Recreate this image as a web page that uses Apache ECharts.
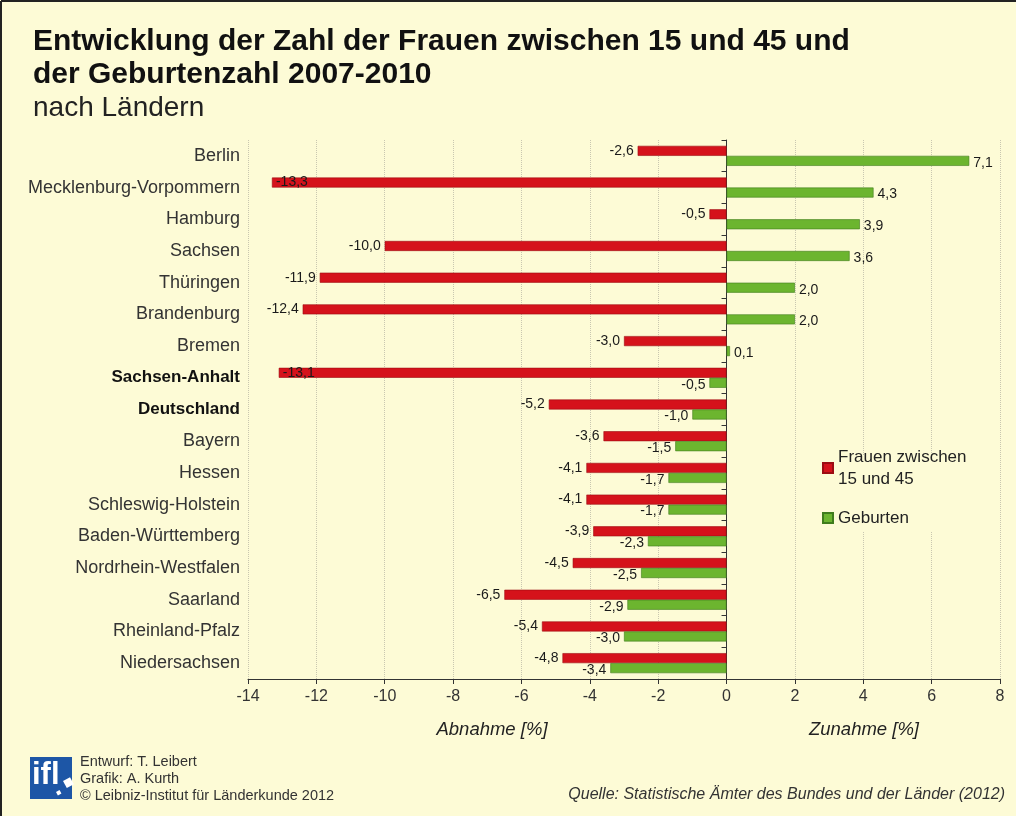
<!DOCTYPE html>
<html>
<head>
<meta charset="utf-8">
<script src="https://cdn.jsdelivr.net/npm/echarts@6/dist/echarts.min.js"></script>
<style>
  html, body { margin: 0; padding: 0; background: #fdfbd6; }
  #chart { width: 1016px; height: 816px; }
</style>
</head>
<body>
<div id="chart"></div>
<script>
// Länder, von oben nach unten
const laender = [
  'Berlin', 'Mecklenburg-Vorpommern', 'Hamburg', 'Sachsen', 'Thüringen',
  'Brandenburg', 'Bremen', 'Sachsen-Anhalt', 'Deutschland', 'Bayern',
  'Hessen', 'Schleswig-Holstein', 'Baden-Württemberg', 'Nordrhein-Westfalen',
  'Saarland', 'Rheinland-Pfalz', 'Niedersachsen'
];
// Veränderung 2007-2010 in %
const frauen = [-2.6, -13.3, -0.5, -10.0, -11.9, -12.4, -3.0, -13.1, -5.2, -3.6, -4.1, -4.1, -3.9, -4.5, -6.5, -5.4, -4.8];
const geburten = [7.1, 4.3, 3.9, 3.6, 2.0, 2.0, 0.1, -0.5, -1.0, -1.5, -1.7, -1.7, -2.3, -2.5, -2.9, -3.0, -3.4];
const xTicks = [-14, -12, -10, -8, -6, -4, -2, 0, 2, 4, 6, 8];
const fettLaender = ['Sachsen-Anhalt', 'Deutschland'];

const bg = '#fdfbd6';
const font = "'Liberation Sans', Arial, sans-serif";

function fmt(v) {
  return v.toFixed(1).replace('.', ',');
}

// label links bei negativen, rechts bei positiven Werten; sehr lange Balken innen
function toItems(arr) {
  return arr.map(function (v) {
    let pos = v < 0 ? 'left' : 'right';
    if (v < -13) pos = 'insideLeft';
    return { value: v, label: { position: pos } };
  });
}

const chart = echarts.init(document.getElementById('chart'));

const option = {
  backgroundColor: bg,
  textStyle: { fontFamily: font },
  animation: false,
  title: {
    text: 'Entwicklung der Zahl der Frauen zwischen 15 und 45 und\nder Geburtenzahl 2007-2010',
    subtext: 'nach Ländern',
    left: 28,
    top: 20,
    itemGap: 3,
    textStyle: { fontSize: 30, fontWeight: 'bold', lineHeight: 33, color: '#111', fontFamily: font },
    subtextStyle: { fontSize: 28, color: '#222', fontFamily: font }
  },
  legend: {
    orient: 'vertical',
    left: 816,
    top: 429,
    icon: 'rect',
    itemWidth: 10,
    itemHeight: 10,
    itemGap: 6,
    padding: 6,
    textStyle: { fontSize: 17, color: '#222', lineHeight: 22 },
    data: [
      { name: 'Frauen zwischen\n15 und 45', textStyle: { padding: [22, 0, 0, 0] } },
      'Geburten'
    ]
  },
  grid: {
    left: 248,
    right: 16,
    top: 140,
    bottom: 137
  },
  xAxis: {
    type: 'value',
    min: -14,
    max: 8,
    interval: 2,
    axisLine: { show: true, onZero: false, lineStyle: { color: '#333', width: 1 } },
    axisTick: { show: true, length: 5, lineStyle: { color: '#333' } },
    axisLabel: { fontSize: 16, color: '#333', margin: 10 },
    splitLine: { show: true, lineStyle: { color: '#c9c7b0', type: 'dotted', width: 1 } }
  },
  yAxis: [
    {
      type: 'category',
      data: laender,
      inverse: true,
      axisLine: { show: false, onZero: false },
      axisTick: { show: false },
      axisLabel: {
        margin: 8,
        formatter: function (v) {
          return fettLaender.indexOf(v) >= 0 ? '{b|' + v + '}' : '{n|' + v + '}';
        },
        rich: {
          n: { fontSize: 18, color: '#333' },
          b: { fontSize: 17, color: '#111', fontWeight: 'bold' }
        }
      }
    },
    {
      type: 'category',
      data: laender,
      inverse: true,
      position: 'left',
      axisLine: { show: true, onZero: true, lineStyle: { color: '#333', width: 1 } },
      axisTick: { show: true, length: 5, lineStyle: { color: '#333' } },
      axisLabel: { show: false },
      splitLine: { show: false }
    }
  ],
  series: [
    {
      name: 'Frauen zwischen\n15 und 45',
      type: 'bar',
      yAxisIndex: 0,
      barWidth: 10,
      barGap: '0%',
      data: toItems(frauen),
      itemStyle: { color: '#d5121b', borderColor: '#9c0c12', borderWidth: 0.6 },
      label: {
        show: true,
        fontSize: 14,
        color: '#1a1a1a',
        distance: 4,
        formatter: function (p) { return fmt(p.value); }
      }
    },
    {
      name: 'Geburten',
      type: 'bar',
      yAxisIndex: 0,
      barWidth: 10,
      data: toItems(geburten),
      itemStyle: { color: '#6cb52f', borderColor: '#3f7c1c', borderWidth: 0.6 },
      label: {
        show: true,
        fontSize: 14,
        color: '#1a1a1a',
        distance: 4,
        offset: [0, 2],
        formatter: function (p) { return fmt(p.value); }
      }
    }
  ],
  graphic: [
    // Fläche hinter der Legende (verdeckt die Gitterlinien)
    { type: 'rect', z: 1, shape: { x: 814, y: 456, width: 180, height: 76 }, style: { fill: bg } },
    // Rahmen oben und links
    { type: 'line', shape: { x1: 1, y1: 1, x2: 1016, y2: 1 }, style: { stroke: '#222', lineWidth: 2 } },
    { type: 'line', shape: { x1: 1, y1: 1, x2: 1, y2: 816 }, style: { stroke: '#222', lineWidth: 2 } },
    // Achsentitel
    { type: 'text', x: 492, y: 720, style: { text: 'Abnahme [%]', textAlign: 'center', font: "italic 18.5px 'Liberation Sans', Arial", fill: '#222' } },
    { type: 'text', x: 864, y: 720, style: { text: 'Zunahme [%]', textAlign: 'center', font: "italic 18.5px 'Liberation Sans', Arial", fill: '#222' } },
    // ifl logo
    { type: 'rect', shape: { x: 30, y: 757, width: 42, height: 42 }, style: { fill: '#1d56a6' } },
    { type: 'text', x: 32, y: 760, style: { text: 'ifl', font: "bold 31px 'Liberation Sans', Arial", fill: '#fff' } },
    { type: 'rect', shape: { x: 0, y: 0, width: 8, height: 8 }, x: 63, y: 781, rotation: 0.5, style: { fill: '#fff' } },
    { type: 'rect', shape: { x: 0, y: 0, width: 4, height: 4 }, x: 56, y: 792, rotation: 0.5, style: { fill: '#fff' } },
    // Impressum
    { type: 'text', left: 80, top: 754, style: { text: 'Entwurf: T. Leibert', font: "14.5px 'Liberation Sans', Arial", fill: '#333' } },
    { type: 'text', left: 80, top: 771, style: { text: 'Grafik: A. Kurth', font: "14.5px 'Liberation Sans', Arial", fill: '#333' } },
    { type: 'text', left: 80, top: 788, style: { text: '© Leibniz-Institut für Länderkunde 2012', font: "14.5px 'Liberation Sans', Arial", fill: '#333' } },
    { type: 'text', right: 11, top: 787, style: { text: 'Quelle: Statistische Ämter des Bundes und der Länder (2012)', font: "italic 16px 'Liberation Sans', Arial", fill: '#333' } }
  ]
};

chart.setOption(option);
</script>
</body>
</html>
